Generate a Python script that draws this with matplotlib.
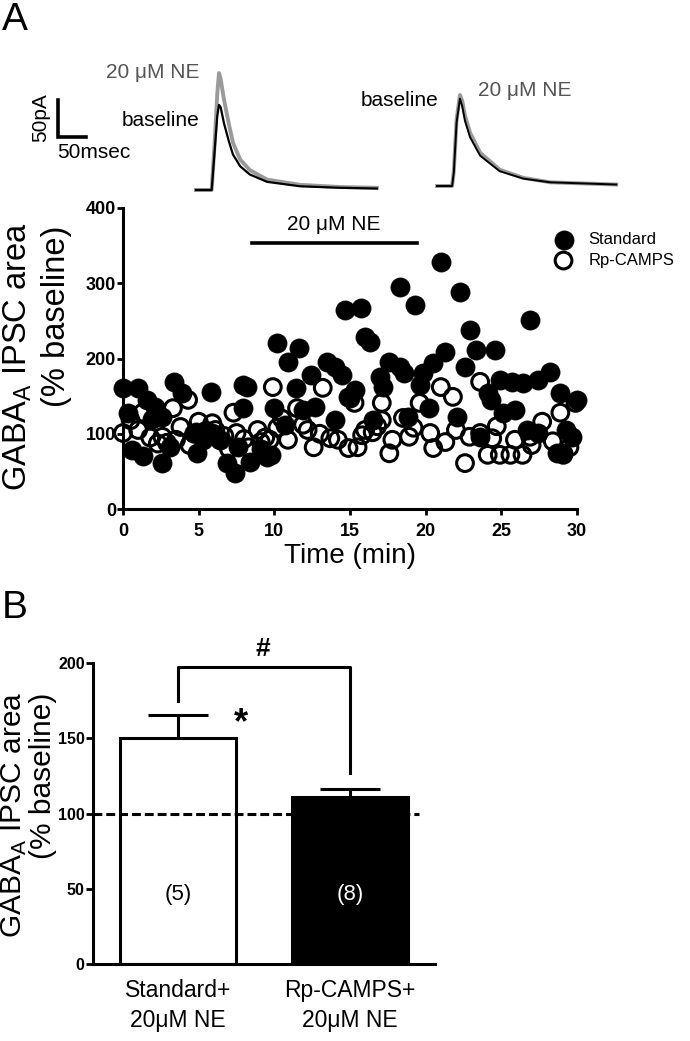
import matplotlib
matplotlib.use("Agg")
import matplotlib.pyplot as plt
import numpy as np

plt.rcParams['font.family'] = ['Liberation Sans', 'DejaVu Sans']
plt.rcParams['mathtext.fontset'] = 'custom'
plt.rcParams['mathtext.rm'] = 'Liberation Sans'

# ---- panel A traces (ms, pA) ----
trace_t = [0, 28, 33, 38, 41, 44, 50, 59, 66, 79, 96, 127, 186, 257, 323]
left_ne = [0, 0, 60, 130, 158, 150, 122, 88, 64, 41, 27, 14, 7, 4, 3]
left_base = [0, 0, 50, 100, 115, 112, 90, 65, 48, 32, 21, 11, 5, 3, 2]
trace_t2 = [0, 27, 30, 35, 41, 45, 50, 59, 77, 112, 154, 202, 320]
right_ne = [0, 0, 20, 90, 123, 115, 95, 72, 45, 22, 11, 5, 2]
right_base = [0, 0, 18, 86, 118, 108, 88, 66, 41, 20, 10, 5, 2]

# ---- panel A time course ----
std_t = [0.0, 0.3, 1.0, 0.6, 1.3, 1.6, 2.1, 2.6, 2.6, 3.1, 3.4, 3.9, 2.2,
         4.9, 4.8, 5.8, 5.9, 6.4, 6.9, 7.4, 7.6, 7.9, 7.9, 8.2, 8.4, 9.5, 9.8,
         10.2, 11.6, 10.9, 10.0, 10.7, 11.4, 12.4, 12.7, 11.9, 13.5, 14.0,
         14.0, 14.9, 14.7, 14.5, 15.7, 16.0, 16.3, 15.3, 15.0, 17.0, 17.6,
         18.3, 18.6, 17.2, 16.5, 18.3, 19.3, 18.8, 19.6, 19.8, 20.2, 20.5,
         21.0, 21.3, 22.1, 22.3, 22.6, 22.9, 23.3, 23.6, 24.1, 24.3, 24.6,
         24.9, 25.1, 25.7, 25.9, 26.4, 26.7, 26.9, 27.4, 27.4, 28.2, 28.7,
         28.9, 29.1, 29.3, 29.7, 30.0, 1.9, 5.3, 9.1]
std_v = [161, 128, 161, 78, 70, 145, 136, 122, 61, 82, 169, 154, 132,
         74, 102, 156, 101, 92, 61, 48, 82, 165, 134, 162, 62, 69, 72,
         220, 214, 196, 134, 112, 161, 178, 136, 132, 196, 189,
         118, 149, 264, 178, 267, 229, 222, 158, 148, 175, 195,
         189, 181, 162, 118, 295, 271, 122, 165, 181, 134, 194,
         328, 209, 122, 288, 189, 238, 211, 96, 154, 145, 211,
         171, 128, 169, 132, 167, 105, 251, 171, 101, 182, 74,
         154, 74, 105, 96, 145, 120, 92, 80]
rp_t = [0.0, 0.5, 1.3, 1.8, 2.3, 2.9, 3.3, 3.8, 4.3, 4.4, 5.0, 5.5, 5.9,
        6.4, 7.0, 7.3, 7.5, 8.3, 8.9, 9.4, 9.7, 9.9, 10.2, 10.9, 11.5, 11.9,
        12.2, 12.6, 13.2, 13.7, 14.2, 14.9, 15.3, 15.5, 16.0, 16.5, 17.1,
        17.1, 17.8, 17.6, 18.5, 18.9, 19.6, 20.3, 20.5, 21.0, 21.3, 21.8,
        22.6, 22.9, 23.6, 23.6, 24.4, 24.1, 24.9, 25.6, 25.9, 26.4, 26.9,
        27.7, 28.9, 29.1, 29.5, 29.9,
        1.0, 2.6, 3.5, 4.7, 6.1, 6.7, 8.0, 9.1, 10.5, 13.0, 15.8, 16.8,
        19.2, 22.0, 24.7, 27.0, 28.4]
rp_v = [101, 118, 128, 95, 87, 88, 134, 109, 145, 85, 116, 104, 114,
        92, 80, 128, 101, 82, 105, 95, 92, 162, 108, 92, 134, 112,
        105, 82, 161, 94, 92, 81, 141, 82, 105, 102, 141,
        118, 92, 74, 121, 96, 141, 101, 81, 162, 89, 149,
        61, 96, 169, 101, 94, 72, 72, 72, 92, 72, 96,
        116, 128, 72, 82, 141,
        105, 96, 92, 100, 105, 97, 93, 89, 120, 100, 98, 110,
        108, 105, 110, 85, 90]

# ---- panel B ----
groups = ['Standard+\n20\u03bcM NE', 'Rp-CAMPS+\n20\u03bcM NE']
means = [150, 111]
sems = [15.5, 5.5]
n_cells = ['(5)', '(8)']

W, H = 690, 1041
fig = plt.figure(figsize=(W / 100, H / 100), dpi=100)


def fx(px):
    return px / W


def fy(py):
    return 1 - py / H


# traces
axt = fig.add_axes([0, fy(200), 1, 160 / H])
ms_px, pa_px = 0.56, 0.74
axt.set_xlim(0, W / ms_px)
axt.set_ylim(-10 / pa_px, 150 / pa_px)
axt.axis('off')
off1 = 196 / ms_px
off2, base2 = 437 / ms_px, 4 / pa_px
axt.plot(off1 + np.array(trace_t), left_ne, color='#9a9a9a', lw=2.8)
axt.plot(off1 + np.array(trace_t), left_base, color='black', lw=1.6)
axt.plot(off2 + np.array(trace_t2), base2 + np.array(right_ne), color='#9a9a9a', lw=2.8)
axt.plot(off2 + np.array(trace_t2), base2 + np.array(right_base), color='black', lw=1.4)
# scale bar 50 pA / 50 ms
sb_x, sb_y = 58 / ms_px, (190 - 137) / pa_px
axt.plot([sb_x, sb_x, sb_x + 50], [sb_y + 50, sb_y, sb_y], color='black', lw=2.6,
         solid_joinstyle='miter')

fig.text(fx(2), fy(2), 'A', fontsize=28, va='top', ha='left')
fig.text(fx(199), fy(72), '20 \u03bcM NE', fontsize=15, color='#555555', ha='right', va='center')
fig.text(fx(199), fy(120), 'baseline', fontsize=15, ha='right', va='center')
fig.text(fx(41), fy(118), '50pA', fontsize=15, rotation=90, ha='center', va='center')
fig.text(fx(57), fy(153), '50msec', fontsize=15, ha='left', va='center')
fig.text(fx(361), fy(100), 'baseline', fontsize=15, ha='left', va='center')
fig.text(fx(478), fy(90), '20 \u03bcM NE', fontsize=15, color='#555555', ha='left', va='center')

# time course
axA = fig.add_axes([fx(123), fy(509), 454 / W, 301 / H])
axA.scatter(std_t, std_v, s=190, color='black', edgecolor='black', lw=0.5,
            clip_on=False, zorder=3, label='Standard')
axA.scatter(rp_t, rp_v, s=145, facecolor='none', edgecolor='black', lw=2.2,
            clip_on=False, zorder=4, label='Rp-CAMPS')
axA.set_xlim(0, 30)
axA.set_ylim(0, 400)
axA.set_xticks([0, 5, 10, 15, 20, 25, 30])
axA.set_yticks([0, 100, 200, 300, 400])
for s in ['top', 'right']:
    axA.spines[s].set_visible(False)
for s in ['left', 'bottom']:
    axA.spines[s].set_linewidth(2.2)
axA.tick_params(width=2, length=4)
axA.tick_params(axis='y', pad=1)
axA.tick_params(axis='x', pad=6)
for lab in axA.get_xticklabels() + axA.get_yticklabels():
    lab.set_fontweight('bold')
    lab.set_fontsize(13)
axA.set_xlabel('Time (min)', fontsize=20, labelpad=2)
axA.plot([8.5, 19.4], [353, 353], color='black', lw=2.6)
axA.text(13.95, 378, '20 \u03bcM NE', fontsize=15, ha='center', va='center')
axA.legend(loc='upper left', bbox_to_anchor=(0.952, 0.92), frameon=False,
           fontsize=12, scatterpoints=1, handlelength=1.0, handletextpad=1.0,
           labelspacing=0.35, borderpad=0, borderaxespad=0)

fig.text(fx(18), fy(222), 'GABA$_{\\mathregular{A}}$ IPSC area', fontsize=23.5,
         rotation=90, ha='center', va='top')
fig.text(fx(57), fy(226), '(% baseline)', fontsize=23.5, rotation=90, ha='center', va='top')

# bar chart
axB = fig.add_axes([fx(93), fy(964), 342 / W, 301 / H])
x = np.arange(len(means))
axB.bar(x, means, width=0.669, color=['white', 'black'], edgecolor='black', lw=2.2, zorder=2)
axB.vlines(x, means, np.array(means) + np.array(sems), color='black', lw=2.2, zorder=2)
axB.hlines(np.array(means) + np.array(sems), x - 0.172, x + 0.172, color='black', lw=2.2, zorder=2)
axB.axhline(100, xmin=0, xmax=0.953, color='black', lw=2.2, ls=(0, (2.9, 1.3)), zorder=3)
axB.set_xlim(-0.494, 1.494)
axB.set_ylim(0, 200)
axB.set_yticks([0, 50, 100, 150, 200])
axB.set_xticks(x)
axB.set_xticklabels(groups, fontsize=16.5, linespacing=1.35)
for s in ['top', 'right']:
    axB.spines[s].set_visible(False)
for s in ['left', 'bottom']:
    axB.spines[s].set_linewidth(2.2)
axB.tick_params(axis='y', width=2, length=5, pad=1)
axB.tick_params(axis='x', length=0, pad=11)
for lab in axB.get_yticklabels():
    lab.set_fontweight('bold')
    lab.set_fontsize(11.5)
for i, t in enumerate(n_cells):
    axB.text(x[i], 46, t, fontsize=16, ha='center', va='center',
             color='black' if i == 0 else 'white', zorder=4)
axB.plot([0, 0, 1, 1], [175, 197.6, 197.6, 127], color='black', lw=2.2, clip_on=False)
axB.text(0.494, 209, '#', fontsize=19, fontweight='bold', ha='center', va='center', clip_on=False)
axB.text(0.366, 160, '*', fontsize=26, fontweight='bold', ha='center', va='center')

fig.text(fx(2), fy(590), 'B', fontsize=28, va='top', ha='left')
fig.text(fx(14), fy(692), 'GABA$_{\\mathregular{A}}$ IPSC area', fontsize=21.5,
         rotation=90, ha='center', va='top')
fig.text(fx(43), fy(693), '(% baseline)', fontsize=21.5, rotation=90, ha='center', va='top')

fig.savefig('out.png', dpi=100)
